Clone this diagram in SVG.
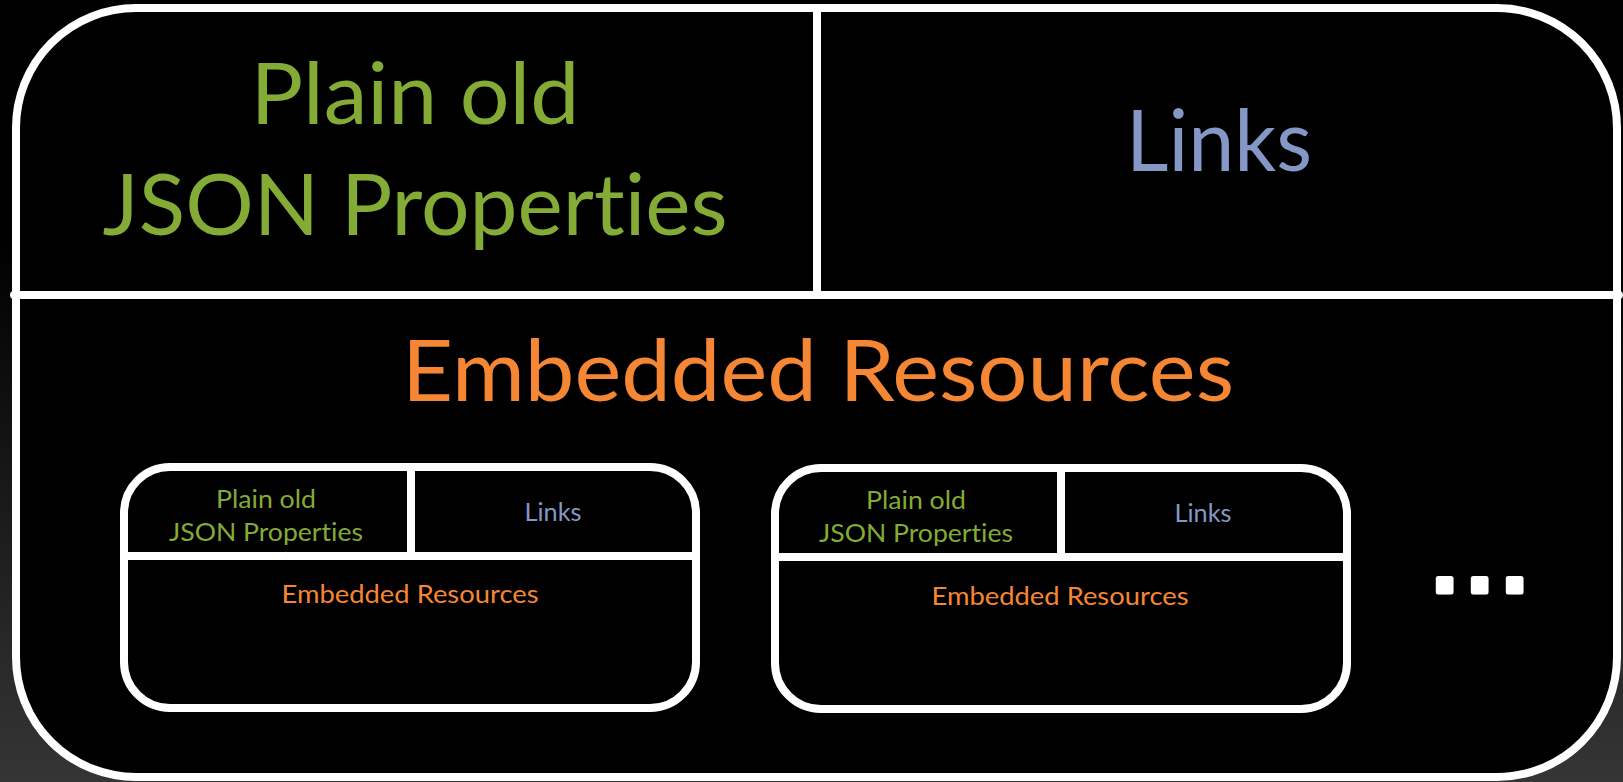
<svg xmlns="http://www.w3.org/2000/svg" width="1623" height="782" viewBox="0 0 1623 782">
  <defs>
    <linearGradient id="bg" gradientUnits="userSpaceOnUse" x1="0" y1="240" x2="0" y2="782">
      <stop offset="0" stop-color="#000000"/>
      <stop offset="1" stop-color="#353535"/>
    </linearGradient>
    <style>
      .frame { fill: #000000; stroke: #ffffff; stroke-width: 8; }
      .rule { stroke: #ffffff; stroke-width: 8; stroke-linecap: round; fill: none; }
      .txt { font-family: Lato, "Open Sans", "Liberation Sans", sans-serif; text-anchor: middle; font-variant-ligatures: none; font-feature-settings: "liga" 0; }
      .big { font-size: 85px; }
      .small { font-size: 25px; }
      .props { fill: #84AB35; }
      .links { fill: #8497C6; }
      .embed { fill: #F58634; }
      .dots { fill: #ffffff; stroke: #ffffff; stroke-width: 5; stroke-linejoin: round; font-family: "DejaVu Sans", sans-serif; font-weight: bold; font-size: 72px; }
    </style>
  </defs>

  <!-- page background -->
  <rect x="0" y="0" width="1623" height="782" fill="url(#bg)"/>

  <!-- resource: outer container -->
  <g id="resource">
    <rect class="frame" x="16" y="8" width="1601" height="769" rx="120" ry="120"/>
    <line class="rule" x1="14" y1="295" x2="1619" y2="295"/>
    <line class="rule" x1="817" y1="10" x2="817" y2="293"/>
  </g>

  <g id="properties">
    <text class="txt big props" x="415" y="124" textLength="329" lengthAdjust="spacingAndGlyphs">Plain old</text>
    <text class="txt big props" x="415" y="235" textLength="625" lengthAdjust="spacingAndGlyphs">JSON Properties</text>
  </g>

  <g id="links">
    <text class="txt big links" x="1219" y="171" textLength="186" lengthAdjust="spacingAndGlyphs">Links</text>
  </g>

  <g id="embedded">
    <text class="txt big embed" x="818" y="401" textLength="832" lengthAdjust="spacingAndGlyphs">Embedded Resources</text>
  </g>

  <!-- first embedded resource -->
  <g id="embedded-1">
    <rect class="frame" x="124" y="467" width="572" height="241" rx="46" ry="46"/>
    <line class="rule" x1="124" y1="556" x2="696" y2="556"/>
    <line class="rule" x1="411" y1="469" x2="411" y2="554"/>
    <text class="txt small props" x="266" y="508" textLength="100" lengthAdjust="spacingAndGlyphs">Plain old</text>
    <text class="txt small props" x="266" y="541" textLength="194" lengthAdjust="spacingAndGlyphs">JSON Properties</text>
    <text class="txt small links" x="553" y="521" textLength="57" lengthAdjust="spacingAndGlyphs">Links</text>
    <text class="txt small embed" x="410" y="603" textLength="257" lengthAdjust="spacingAndGlyphs">Embedded Resources</text>
  </g>

  <!-- second embedded resource -->
  <g id="embedded-2">
    <rect class="frame" x="775" y="468" width="572" height="241" rx="46" ry="46"/>
    <line class="rule" x1="775" y1="557" x2="1347" y2="557"/>
    <line class="rule" x1="1061" y1="470" x2="1061" y2="555"/>
    <text class="txt small props" x="916" y="509" textLength="100" lengthAdjust="spacingAndGlyphs">Plain old</text>
    <text class="txt small props" x="916" y="542" textLength="194" lengthAdjust="spacingAndGlyphs">JSON Properties</text>
    <text class="txt small links" x="1203" y="522" textLength="57" lengthAdjust="spacingAndGlyphs">Links</text>
    <text class="txt small embed" x="1060" y="605" textLength="257" lengthAdjust="spacingAndGlyphs">Embedded Resources</text>
  </g>

  <!-- more embedded resources -->
  <g id="more">
    <text class="dots" x="1431 1466 1501" y="592">...</text>
  </g>

  <g id="connectors"/>
</svg>
